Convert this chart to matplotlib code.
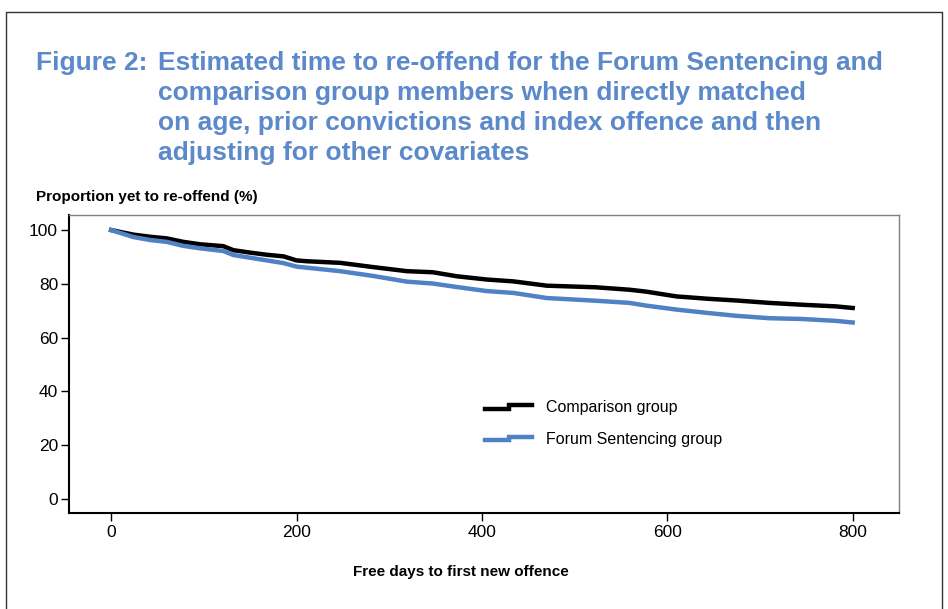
import matplotlib
matplotlib.use("Agg")
import matplotlib.pyplot as plt
from matplotlib.lines import Line2D
from matplotlib.legend_handler import HandlerBase

FONT = "Liberation Sans"

# ---- data ----
comparison_days = [0, 24, 42, 60, 78, 96, 121, 132, 150, 168, 186, 200, 211, 247, 283, 319, 347,
                   373, 405, 434, 470, 523, 559, 577, 610, 645, 674, 710, 746, 782, 800]
comparison_pct = [100, 98.3, 97.5, 96.9, 95.6, 94.7, 94.0, 92.5, 91.6, 90.8, 90.2, 88.7, 88.4, 87.8,
                  86.2, 84.7, 84.3, 82.8, 81.6, 80.9, 79.3, 78.7, 77.8, 77.1, 75.3, 74.4, 73.8,
                  72.9, 72.2, 71.6, 71.0]
forum_days = comparison_days
forum_pct = [100, 97.4, 96.3, 95.6, 94.1, 93.2, 92.2, 90.7, 89.7, 88.7, 87.7, 86.4, 86.0, 84.7,
             82.9, 80.8, 80.1, 78.8, 77.3, 76.6, 74.7, 73.7, 72.9, 71.9, 70.4, 69.1, 68.1, 67.2,
             66.9, 66.2, 65.6]
series_labels = ["Comparison group", "Forum Sentencing group"]
x_ticks = [0, 200, 400, 600, 800]
y_ticks = [0, 20, 40, 60, 80, 100]

title_prefix = "Figure 2:"
title_lines = ["Estimated time to re-offend for the Forum Sentencing and",
               "comparison group members when directly matched",
               "on age, prior convictions and index offence and then",
               "adjusting for other covariates"]
y_title = "Proportion yet to re-offend (%)"
x_title = "Free days to first new offence"

BLUE = "#4F81C5"
TITLE_BLUE = "#5B89C9"

W, H = 948, 609
fig = plt.figure(figsize=(W / 100, H / 100), dpi=100)

def fx(px):
    return px / W

def fy(py):
    return 1 - py / H

# outer frame (left, top, right)
fig.add_artist(Line2D([fx(6), fx(6), fx(942), fx(942)], [0, fy(11.5), fy(11.5), 0],
                      transform=fig.transFigure, color="#333333", lw=1.0))

ax = fig.add_axes([fx(68.5), fy(512.5), fx(899) - fx(68.5), fy(215) - fy(512.5)])

ax.plot(comparison_days, comparison_pct, color="black", lw=3.2,
        label=series_labels[0], solid_joinstyle="miter")
ax.plot(forum_days, forum_pct, color=BLUE, lw=3.2,
        label=series_labels[1], solid_joinstyle="miter")

ax.set_xlim(-46, 850)
ax.set_ylim(-5.1, 105.6)
ax.set_xticks(x_ticks)
ax.set_yticks(y_ticks)
ax.tick_params(axis="both", direction="out", length=6, width=1.0, color="black",
               labelsize=12.5)
ax.tick_params(axis="x", pad=3)
ax.tick_params(axis="y", pad=1.5)
for lab in ax.get_xticklabels() + ax.get_yticklabels():
    lab.set_fontfamily(FONT)
for s in ["left", "bottom"]:
    ax.spines[s].set_color("black")
    ax.spines[s].set_linewidth(1.5)
for s in ["top", "right"]:
    ax.spines[s].set_color("#7f7f7f")
    ax.spines[s].set_linewidth(1.0)


class StepHandler(HandlerBase):
    def create_artists(self, legend, orig_handle, xdescent, ydescent, width, height, fontsize, trans):
        ym = height / 2 - ydescent
        d = height * 0.16
        xm = -xdescent + width * 0.5
        line = Line2D([-xdescent, xm, xm, -xdescent + width],
                      [ym - d, ym - d, ym + d, ym + d],
                      color=orig_handle.get_color(), lw=orig_handle.get_linewidth(),
                      solid_joinstyle="miter", transform=trans)
        return [line]


handles = ax.get_lines()
leg = ax.legend(handles, series_labels, handler_map={Line2D: StepHandler()},
                loc="upper left", bbox_to_anchor=(fx(471), fy(386)),
                bbox_transform=fig.transFigure, frameon=False, handlelength=2.9,
                handletextpad=0.9, labelspacing=1.05,
                prop={"family": FONT, "size": 11.5})

# titles
for i, line in enumerate(title_lines):
    fig.text(fx(158), fy(70 + 30 * i), line, fontsize=19, fontweight="bold",
             color=TITLE_BLUE, family=FONT, va="baseline", ha="left")
fig.text(fx(36), fy(70), title_prefix, fontsize=19, fontweight="bold",
         color=TITLE_BLUE, family=FONT, va="baseline", ha="left")

fig.text(fx(36), fy(201), y_title, fontsize=11, fontweight="bold", family=FONT,
         va="baseline", ha="left")
fig.text(fx(461), fy(576), x_title, fontsize=11, fontweight="bold", family=FONT,
         va="baseline", ha="center")

fig.savefig("out.png", dpi=100)
